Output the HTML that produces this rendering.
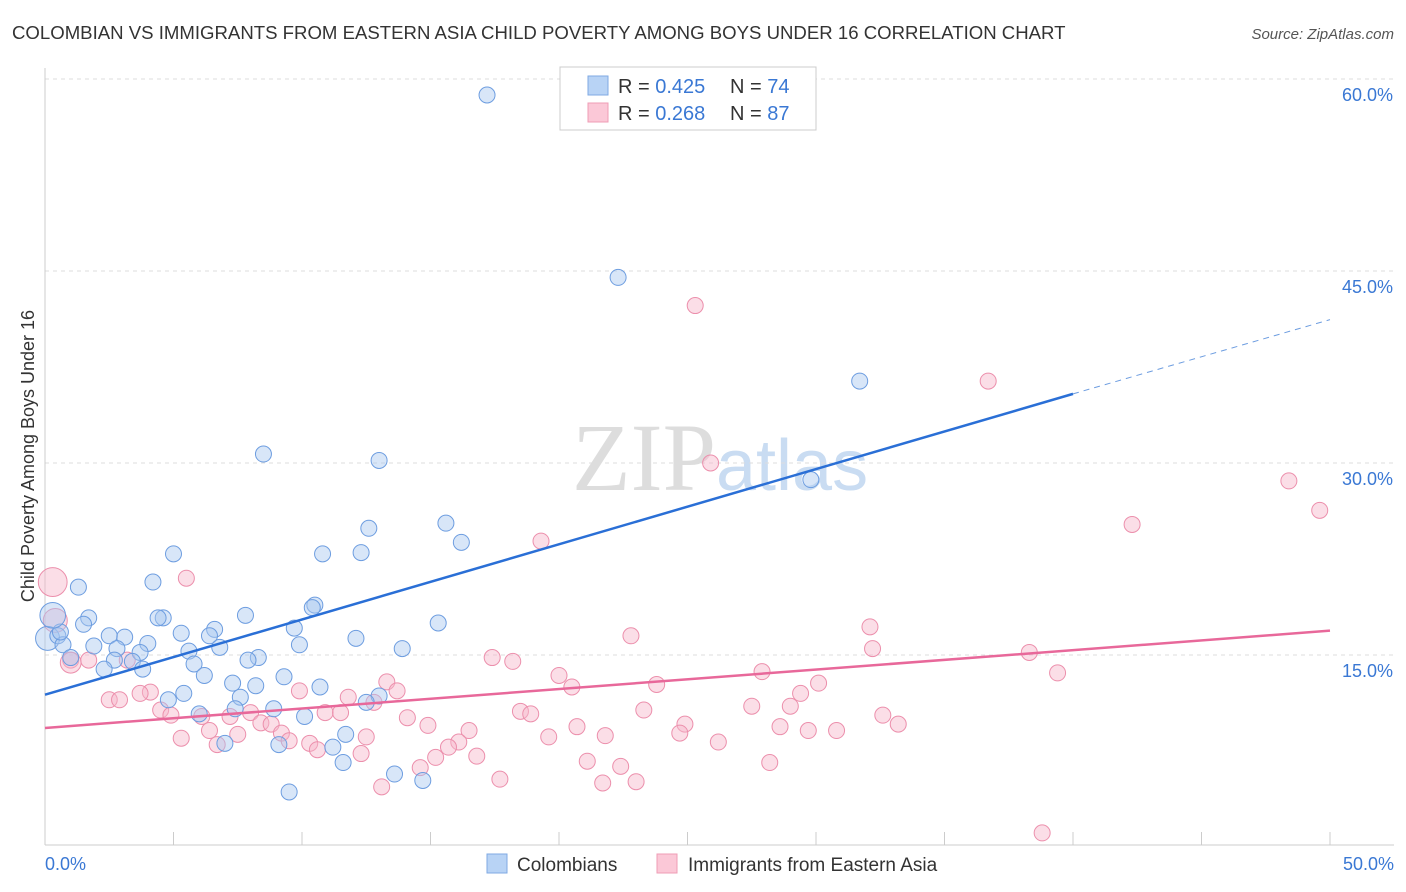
<!DOCTYPE html>
<html><head><meta charset="utf-8"><style>
body{margin:0;background:#fff;font-family:"Liberation Sans",sans-serif}
svg{display:block}
</style></head><body>
<svg width="1406" height="892" xmlns="http://www.w3.org/2000/svg">
<text x="12" y="39" font-size="18.6" fill="#333">COLOMBIAN VS IMMIGRANTS FROM EASTERN ASIA CHILD POVERTY AMONG BOYS UNDER 16 CORRELATION CHART</text>
<text x="1394" y="39" font-size="15" fill="#555" font-style="italic" text-anchor="end">Source: ZipAtlas.com</text>
<text x="716" y="490" font-size="96" fill="#ddd" text-anchor="end" font-family="Liberation Serif">ZIP</text>
<text x="716" y="490" font-size="72" fill="#c9dcf2">atlas</text>
<g id="grid"></g>
<g id="axes"></g>
<g id="pts"></g>
<g id="lines"></g>
<text transform="translate(34,456) rotate(-90)" font-size="18" fill="#333" text-anchor="middle">Child Poverty Among Boys Under 16</text>
<text x="45" y="870" font-size="18" fill="#3a78d4">0.0%</text>
<text x="1394" y="870" font-size="18" fill="#3a78d4" text-anchor="end">50.0%</text>
<g>
<rect x="560" y="67" width="256" height="63" fill="#fff" stroke="#ccc"/>
<rect x="588" y="76" width="20" height="19" fill="#b8d3f5" stroke="#7fa9e3"/>
<rect x="588" y="103" width="20" height="19" fill="#fbc8d7" stroke="#ef9db6"/>
<text x="618" y="93" font-size="20" fill="#333">R = <tspan fill="#3a78d4">0.425</tspan></text>
<text x="730" y="93" font-size="20" fill="#333">N = <tspan fill="#3a78d4">74</tspan></text>
<text x="618" y="120" font-size="20" fill="#333">R = <tspan fill="#3a78d4">0.268</tspan></text>
<text x="730" y="120" font-size="20" fill="#333">N = <tspan fill="#3a78d4">87</tspan></text>
</g>
<g>
<rect x="487" y="854" width="20" height="19" fill="#b8d3f5" stroke="#7fa9e3"/>
<text x="517" y="871" font-size="19" fill="#333">Colombians</text>
<rect x="657" y="854" width="20" height="19" fill="#fbc8d7" stroke="#ef9db6"/>
<text x="688" y="871" font-size="19" fill="#333">Immigrants from Eastern Asia</text>
</g>
</svg>
<script>
const yTicks=[15,30,45,60];
const yTickLabels=["15.0%","30.0%","45.0%","60.0%"];
const xTicks=[0,5,10,15,20,25,30,35,40,45,50];
const blueX=[17.2,22.3,31.7,8.5,13.0,29.8,15.6,12.6,16.2,10.8,12.3,5.0,4.2,1.3,10.5,10.4,7.8,4.6,4.4,1.7,1.5,15.3,9.7,6.6,6.4,5.3,3.1,2.5,12.1,0.1,0.5,9.9,13.9,4.0,1.9,2.8,0.7,6.8,5.6,3.7,8.3,7.9,2.7,3.4,5.8,1.0,3.8,2.3,6.2,9.3,7.3,8.2,10.7,5.4,13.0,7.6,12.5,4.8,8.9,7.4,6.0,10.1,11.7,7.0,11.2,9.1,11.6,13.6,14.7,9.5,0.6,0.3];
const blueY=[58.75,44.5,36.4,30.7,30.2,28.7,25.3,24.9,23.8,22.9,23.0,22.9,20.7,20.3,18.9,18.7,18.1,17.9,17.9,17.9,17.4,17.5,17.1,17.0,16.5,16.7,16.4,16.5,16.3,16.3,16.5,15.8,15.5,15.9,15.7,15.5,15.8,15.6,15.3,15.2,14.8,14.6,14.6,14.5,14.3,14.8,13.9,13.9,13.4,13.3,12.8,12.6,12.5,12.0,11.8,11.7,11.3,11.5,10.8,10.8,10.4,10.2,8.8,8.1,7.8,8.0,6.6,5.7,5.2,4.3,16.8,18.1];
const blueSize=[1,1,1,1,1,1,1,1,1,1,1,1,1,1,1,1,1,1,1,1,1,1,1,1,1,1,1,1,1,1.5,1,1,1,1,1,1,1,1,1,1,1,1,1,1,1,1,1,1,1,1,1,1,1,1,1,1,1,1,1,1,1,1,1,1,1,1,1,1,1,1,1,1.6];
const pinkX=[25.3,36.7,25.9,48.4,49.6,42.3,19.3,5.5,0.3,0.4,32.1,22.8,32.2,38.3,17.4,18.2,1.0,1.7,3.2,27.9,39.4,20.0,13.3,20.5,23.8,30.1,4.1,3.7,9.9,11.8,13.7,29.4,2.5,2.9,12.8,29.0,27.5,4.5,23.3,18.5,18.9,10.9,11.5,8.0,4.9,32.6,33.2,6.1,14.1,7.2,8.4,8.8,14.9,20.7,24.9,24.7,28.6,29.7,30.8,6.4,7.5,9.2,12.5,16.5,21.8,19.6,5.3,9.5,10.3,26.2,16.1,15.7,6.7,10.6,12.3,15.2,16.8,21.1,28.2,14.6,22.4,17.7,13.1,21.7,23.0,38.8,1.0];
const pinkY=[42.3,36.4,30.0,28.6,26.3,25.2,23.9,21.0,20.7,17.7,17.2,16.5,15.5,15.2,14.8,14.5,14.6,14.6,14.6,13.7,13.6,13.4,12.9,12.5,12.7,12.8,12.1,12.0,12.2,11.7,12.2,12.0,11.5,11.5,11.3,11.0,11.0,10.7,10.7,10.6,10.4,10.5,10.5,10.5,10.3,10.3,9.6,10.2,10.1,10.2,9.7,9.6,9.5,9.4,9.6,8.9,9.4,9.1,9.1,9.1,8.8,8.9,8.6,9.1,8.7,8.6,8.5,8.3,8.1,8.2,8.2,7.8,8.0,7.6,7.3,7.0,7.1,6.7,6.6,6.2,6.3,5.3,4.7,5.0,5.1,1.1,14.4];
const pinkSize=[1,1,1,1,1,1,1,1,1.8,1.5,1,1,1,1,1,1,1,1,1,1,1,1,1,1,1,1,1,1,1,1,1,1,1,1,1,1,1,1,1,1,1,1,1,1,1,1,1,1,1,1,1,1,1,1,1,1,1,1,1,1,1,1,1,1,1,1,1,1,1,1,1,1,1,1,1,1,1,1,1,1,1,1,1,1,1,1,1.3];
const blueTrend=[[0,11.9],[40.0,35.4]];
const blueTrendExt=[[40.0,35.4],[50,41.2]];
const pinkTrend=[[0,9.3],[50,16.9]];
const X=v=>45+v*1285/50;
const Y=v=>847-v*192/15;
const NS="http://www.w3.org/2000/svg";
function mk(tag,attrs,parent){const e=document.createElementNS(NS,tag);for(const k in attrs)e.setAttribute(k,attrs[k]);parent.appendChild(e);return e;}
const grid=document.getElementById('grid'),axes=document.getElementById('axes'),pts=document.getElementById('pts'),lines=document.getElementById('lines');
yTicks.forEach((t,i)=>{
 const l=mk('line',{x1:45,x2:1394,y1:Y(t),y2:Y(t),stroke:'#ddd','stroke-dasharray':'4,4'},grid);
 
 
 const tx=mk('text',{x:1393,y:Y(t)+22,'font-size':18,fill:'#3a78d4','text-anchor':'end'},grid);
 tx.textContent=yTickLabels[i];
 
 
});
const ax=mk('line',{x1:45,x2:45,y1:68,y2:845,stroke:'#ccc'},axes);


const bx=mk('line',{x1:45,x2:1394,y1:845,y2:845,stroke:'#ccc'},axes);


xTicks.forEach(t=>{
 const l=mk('line',{x1:X(t),x2:X(t),y1:832,y2:845,stroke:'#ccc'},axes);
 
 
});
function drawPts(xs,ys,ss,fill,stroke,name){
 xs.forEach((x,i)=>{
  const c=mk('circle',{cx:X(x),cy:Y(ys[i]),r:8*ss[i],fill:fill,'fill-opacity':0.45,stroke:stroke,'stroke-width':1},pts);
  
  
 });
}
drawPts(pinkX,pinkY,pinkSize,'#f7b6c9','#ec8fac','immigrant-point');
drawPts(blueX,blueY,blueSize,'#a9c8f0','#6d9de0','colombian-point');
function line(p,stroke,dash,name){
 const l=mk('line',{x1:X(p[0][0]),y1:Y(p[0][1]),x2:X(p[1][0]),y2:Y(p[1][1]),stroke:stroke,'stroke-width':dash?1:2.5},lines);
 if(dash)l.setAttribute('stroke-dasharray','6,5');
 
 
}
line(pinkTrend,'#e8689a',false,'immigrant-trendline');
line(blueTrend,'#2a6fd6',false,'colombian-trendline');
line(blueTrendExt,'#6d9de0',true,'colombian-trendline-extension');
</script>
</body></html>
